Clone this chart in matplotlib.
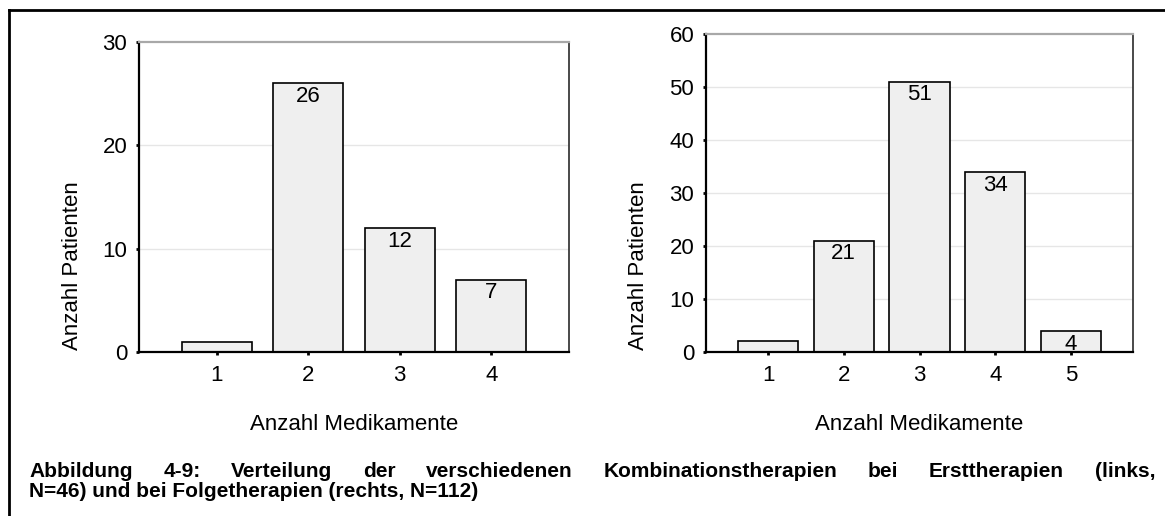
import matplotlib
matplotlib.use('Agg')
import matplotlib.pyplot as plt
from matplotlib.lines import Line2D

plt.rcParams['font.family'] = ['Liberation Sans', 'DejaVu Sans']

# Ersttherapien (links, N=46)
left_cats = [1, 2, 3, 4]
left_counts = [1, 26, 12, 7]
# Folgetherapien (rechts, N=112)
right_cats = [1, 2, 3, 4, 5]
right_counts = [2, 21, 51, 34, 4]

xlabel = 'Anzahl Medikamente'
ylabel = 'Anzahl Patienten'
caption_1 = ('Abbildung 4-9: Verteilung der verschiedenen Kombinationstherapien '
             'bei Ersttherapien (links,')
caption_2 = 'N=46) und bei Folgetherapien (rechts, N=112)'

W, H = 1165, 516
fig = plt.figure(figsize=(W / 100, H / 100), dpi=100)
FS = 16


def px(x0, y0, x1, y1):
    return [x0 / W, 1 - y1 / H, (x1 - x0) / W, (y1 - y0) / H]


def panel(rect, cats, counts, ymax, ystep, xlim, width, ylab_x):
    ax = fig.add_axes(rect)
    ax.set_axisbelow(True)
    ax.bar(cats, counts, width=width, color='#efefef', edgecolor='black',
           linewidth=1.2, zorder=2)
    for c, v in zip(cats, counts):
        if v >= 3:
            ax.annotate(str(v), (c, v), xytext=(0, -2), textcoords='offset points',
                        ha='center', va='top', fontsize=FS, zorder=3)
    ax.set_xlim(*xlim)
    ax.set_ylim(0, ymax)
    ax.set_xticks(cats)
    ax.set_yticks(range(0, ymax + 1, ystep))
    for y in range(ystep, ymax, ystep):
        ax.axhline(y, color='#e6e6e6', linewidth=1, zorder=0)
    ax.tick_params(labelsize=FS, length=2.5, width=2, color='black')
    ax.tick_params(axis='y', pad=6)
    ax.tick_params(axis='x', pad=7)
    for s in ['left', 'bottom']:
        ax.spines[s].set_linewidth(1.6)
        ax.spines[s].set_color('black')
    ax.spines['top'].set_color('#a8a8a8')
    ax.spines['top'].set_linewidth(1.6)
    ax.spines['right'].set_color('#3a3a3a')
    ax.spines['right'].set_linewidth(1.3)
    ax.set_xlabel(xlabel, fontsize=FS)
    ax.xaxis.set_label_coords(0.5, -(414 - 352) / (rect[3] * H))
    ax.xaxis.label.set_va('top')
    fig.text(ylab_x / W, 1 - 266 / H, ylabel, rotation=90, ha='center',
             va='center', fontsize=FS)
    return ax


panel(px(139, 42, 569, 352), left_cats, left_counts, 30, 10, (0.15, 4.85), 0.76, 72)
panel(px(706, 34, 1133, 352), right_cats, right_counts, 60, 10, (0.18, 5.82), 0.8, 639)

# outer frame (left and top edges)
fig.add_artist(Line2D([9 / W, 9 / W], [0, 1 - 10 / H], color='black',
                      linewidth=2, transform=fig.transFigure))
fig.add_artist(Line2D([9 / W, 1], [1 - 10 / H, 1 - 10 / H], color='black',
                      linewidth=2, transform=fig.transFigure))

# caption, first line justified
renderer = fig.canvas.get_renderer()
words = caption_1.split(' ')
x_start, x_end = 29, 1155
cap_fs = 15
y1 = 1 - 477 / H
tmp = [fig.text(0, y1, w, fontsize=cap_fs, fontweight='bold', va='baseline')
       for w in words]
widths = [t.get_window_extent(renderer).width for t in tmp]
gap = (x_end - x_start - sum(widths)) / (len(words) - 1)
x = x_start
for t, w in zip(tmp, widths):
    t.set_x(x / W)
    x += w + gap
fig.text(x_start / W, 1 - 497 / H, caption_2, fontsize=cap_fs, fontweight='bold',
         va='baseline')

fig.savefig('out.png', dpi=100)
